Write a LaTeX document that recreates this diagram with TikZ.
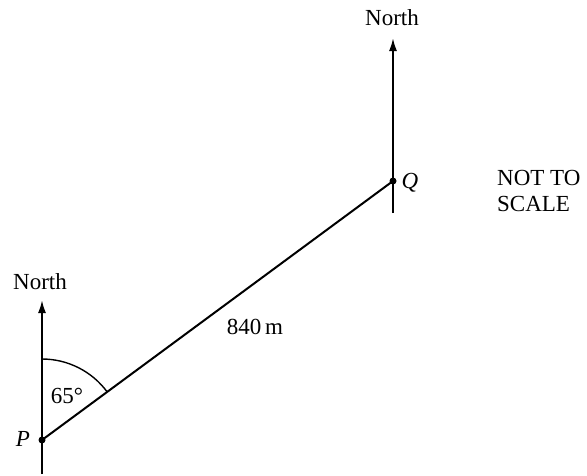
\documentclass[tikz,border=0pt]{standalone}
\usepackage{fontspec}
\setmainfont{Liberation Serif}
\usetikzlibrary{arrows.meta}
\begin{document}
\begin{tikzpicture}[x=1pt,y=-1pt,
  every node/.style={font=\fontsize{23}{26}\selectfont, inner sep=0pt},
  ln/.style={line width=2pt},
  northarrow/.style={ln,-{Latex[length=13pt,width=8pt]}},
  pt/.style={circle,fill=black,minimum size=7pt,inner sep=0pt}]
\useasboundingbox (0,0) rectangle (587,475);
% points
\node[pt] (P) at (42,440) {};
\node[pt] (Q) at (393,181) {};
\coordinate (Pb) at (42,474);
\coordinate (Pt) at (42,300);
\coordinate (Qb) at (393,213);
\coordinate (Qt) at (393,38);
% north lines
\draw[ln] (Pb) -- (P.center);
\draw[northarrow] (P.center) -- (Pt);
\draw[ln] (Qb) -- (Q.center);
\draw[northarrow] (Q.center) -- (Qt);
\node (NP) at (40,282) {North};
\node (NQ) at (392,18) {North};
% PQ
\draw[ln] (P.center) -- (Q.center);
% angle arc
\draw[line width=1.4pt] (42,359) arc[start angle=-90, end angle=-36.4, radius=81];
\node (ang) at (67,396) {65°};
\node (Pl) at (23,439) {\itshape P};
\node (Ql) at (410,183) {\itshape Q};
\node (d) at (255,327) {840\,m};
\node[align=left, anchor=north west] (nts) at (497,170) {NOT TO\\SCALE};
\end{tikzpicture}
\end{document}
